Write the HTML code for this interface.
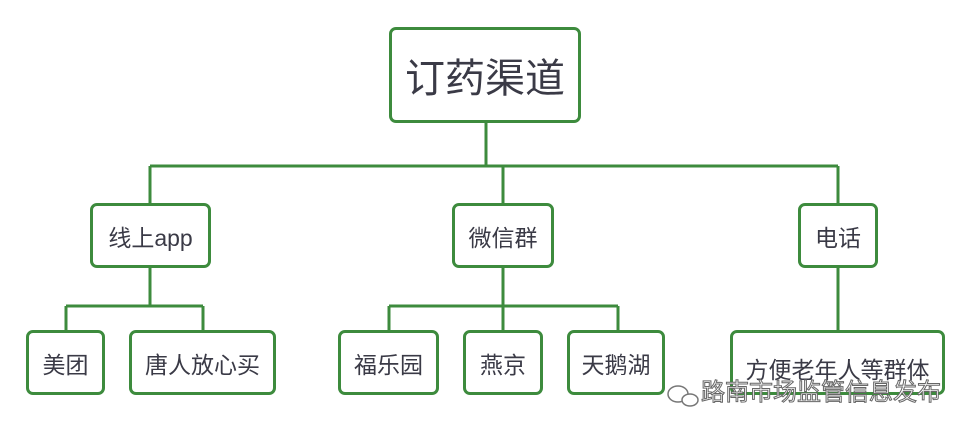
<!DOCTYPE html>
<html><head><meta charset="utf-8"><style>
body{margin:0;background:#fff;width:976px;height:436px;overflow:hidden;position:relative;font-family:"Liberation Sans","Noto Sans CJK SC",sans-serif;}
.b{position:absolute;box-sizing:border-box;border:3px solid #3d8b3d;border-radius:7px;background:#fff;display:flex;align-items:center;justify-content:center;color:#3a3a46;font-size:23px;}
svg{position:absolute;left:0;top:0}
.wm{position:absolute;left:701px;top:379px;font-size:24px;line-height:28px;color:#fff;-webkit-text-stroke:1px #666;}
</style></head><body>
<svg width="976" height="436"><g stroke="#3d8b3d" stroke-width="3" fill="none">
<path d="M486 122V166M150 166H838M150 166V204M503 166V204M838 166V204"/>
<path d="M150 268V306M66 306H203M66 306V330M203 306V330"/>
<path d="M503 268V306M389 306H618M389 306V330M503 306V330M618 306V330"/>
<path d="M838 268V330"/>
</g>
<g stroke="#777" stroke-width="1.5" fill="#fff"><ellipse cx="678" cy="394" rx="10" ry="8"/><ellipse cx="690" cy="400" rx="8" ry="6"/></g>
</svg>
<div class="b" style="left:389px;top:27px;width:192px;height:96px;font-size:40px;">订药渠道</div>
<div class="b" style="left:90px;top:203px;width:121px;height:65px;">线上app</div>
<div class="b" style="left:452px;top:203px;width:102px;height:65px;">微信群</div>
<div class="b" style="left:798px;top:203px;width:80px;height:65px;">电话</div>
<div class="b" style="left:26px;top:330px;width:79px;height:65px;">美团</div>
<div class="b" style="left:129px;top:330px;width:147px;height:65px;">唐人放心买</div>
<div class="b" style="left:338px;top:330px;width:101px;height:65px;">福乐园</div>
<div class="b" style="left:463px;top:330px;width:80px;height:65px;">燕京</div>
<div class="b" style="left:567px;top:330px;width:98px;height:65px;">天鹅湖</div>
<div class="b" style="left:730px;top:330px;width:215px;height:65px;align-items:flex-start;padding-top:18px;">方便老年人等群体</div>
<div class="wm">路南市场监管信息发布</div>
</body></html>
